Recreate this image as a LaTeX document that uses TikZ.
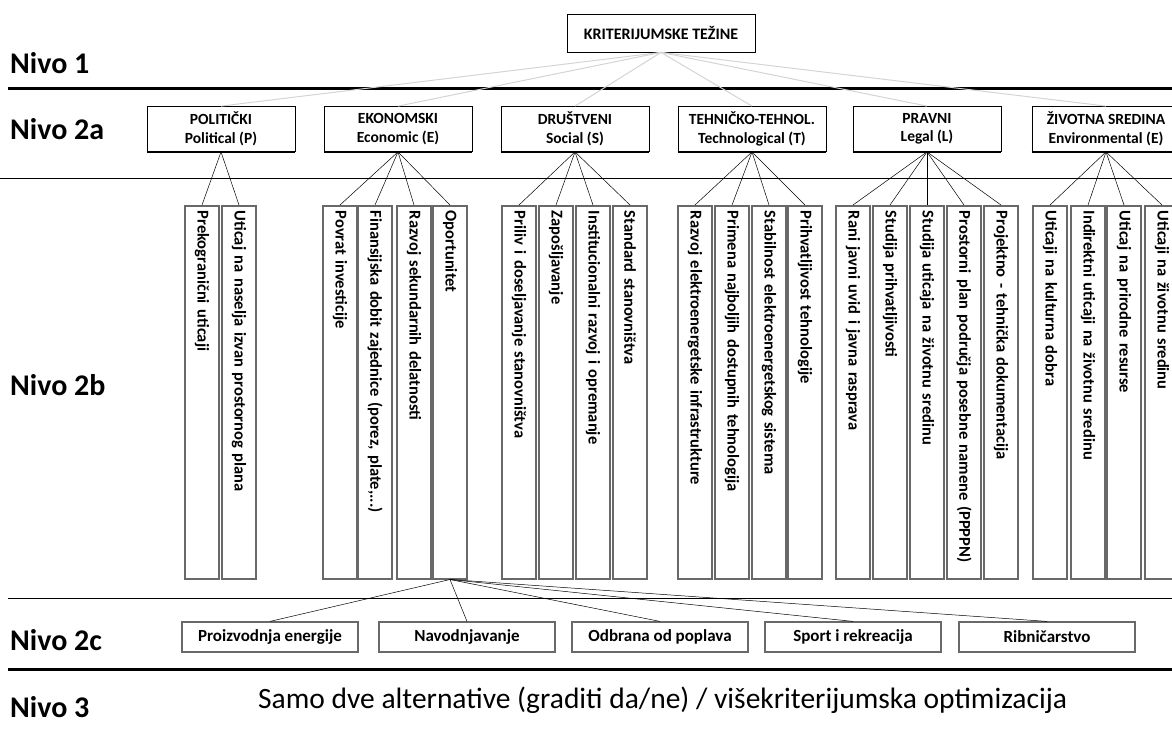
\documentclass[tikz,border=0pt]{standalone}
\usepackage{fontspec}
\setmainfont{Carlito}
\usetikzlibrary{positioning}
\definecolor{boxgray}{RGB}{105,105,105}
\definecolor{linkgray}{RGB}{212,212,212}

\begin{document}
\begin{tikzpicture}[x=1pt, y=-1pt,
  level/.style={font=\fontsize{30}{33}\selectfont\bfseries, anchor=west, inner sep=0pt},
  crit/.style={draw, thick, fill=white, minimum width=148pt, minimum height=45pt, align=center, inner sep=2pt, font=\fontsize{15.5}{18.5}\selectfont\bfseries},
  sub/.style={draw=boxgray, line width=1.5pt, fill=white, rotate=-90, anchor=west, minimum width=373pt, minimum height=34pt, text width=363pt, align=left, inner xsep=5pt, font=\fontsize{16.5}{18}\selectfont\bfseries},
  use/.style={draw=boxgray, line width=1.2pt, fill=white, minimum width=176pt, minimum height=30pt, font=\fontsize{17}{19}\selectfont\bfseries},
  link/.style={black, line width=0.5pt}]

  \useasboundingbox (0,0) rectangle (1172,731);
  \clip (0,0) rectangle (1172,731);

  % granice nivoa
  \draw[line width=3pt] (8,88) -- (1172,88);
  \draw[line width=0.8pt] (0,178) -- (1172,178);
  \draw[line width=0.8pt] (8,598) -- (1172,598);
  \draw[line width=3pt] (8,669) -- (1172,669);

  \node[level] (n1) at (10,63) {Nivo 1};
  \node[level] (n2a) at (10,129) {Nivo 2a};
  \node[level] (n2b) at (10,385) {Nivo 2b};
  \node[level] (n2c) at (10,640) {Nivo 2c};
  \node[level] (n3) at (10,707) {Nivo 3};

  % nivo 1
  \node[crit, minimum width=188pt, minimum height=38pt, font=\fontsize{16}{19}\selectfont\bfseries] (kt) at (661,33) {KRITERIJUMSKE TEŽINE};

  % nivo 2a
  \node[crit] (pol) at (221,129) {POLITIČKI\\Political (P)};
  \node[crit] (eko) at (398,129) {EKONOMSKI\\Economic (E)};
  \node[crit] (dru) at (575,129) {DRUŠTVENI\\Social (S)};
  \node[crit] (teh) at (752,129) {TEHNIČKO-TEHNOL.\\Technological (T)};
  \node[crit] (pra) at (927,129) {PRAVNI\\Legal (L)};
  \node[crit] (ziv) at (1106,129) {ŽIVOTNA SREDINA\\Environmental (E)};
  \foreach \n in {pol,eko,dru,teh,pra,ziv}
    \draw[line width=2.5pt] (\n.south west) -- (\n.south east);
  \foreach \n in {pol,eko,dru,teh,pra,ziv}
    \draw[linkgray, line width=1pt] (kt.south) -- (\n.north);

  % nivo 2b
  \node[sub] (p1) at (202,205) {Prekogranični uticaji};
  \node[sub] (p2) at (239,205) {Uticaj na naselja izvan prostornog plana};

  \node[sub] (e1) at (340,205) {Povrat investicije};
  \node[sub] (e2) at (375,205) {Finansijska dobit zajednice (porez, plate,...)};
  \node[sub] (e3) at (414,205) {Razvoj sekundarnih delatnosti};
  \node[sub] (op) at (450,205) {Oportunitet};

  \node[sub] (s1) at (519,205) {Priliv i doseljavanje stanovništva};
  \node[sub] (s2) at (556,205) {Zapošljavanje};
  \node[sub] (s3) at (593,205) {Institucionalni razvoj i opremanje};
  \node[sub] (s4) at (630,205) {Standard stanovništva};

  \node[sub] (t1) at (695,205) {Razvoj elektroenergetske infrastrukture};
  \node[sub] (t2) at (732,205) {Primena najboljih dostupnih tehnologija};
  \node[sub] (t3) at (769,205) {Stabilnost elektroenergetskog sistema};
  \node[sub] (t4) at (805,205) {Prihvatljivost tehnologije};

  \node[sub] (l1) at (853,205) {Rani javni uvid i javna rasprava};
  \node[sub] (l2) at (890,205) {Studija prihvatljivosti};
  \node[sub] (l3) at (927,205) {Studija uticaja na životnu sredinu};
  \node[sub] (l4) at (964,205) {Prostorni plan područja posebne namene (PPPPN)};
  \node[sub] (l5) at (1001,205) {Projektno - tehnička dokumentacija};

  \node[sub] (z1) at (1050,205) {Uticaji na kulturna dobra};
  \node[sub] (z2) at (1088,205) {Indirektni uticaji na životnu sredinu};
  \node[sub] (z3) at (1124,205) {Uticaj na prirodne resurse};
  \node[sub] (z4) at (1162,205) {Uticaji na životnu sredinu};

  \foreach \c in {p1,p2} \draw[link] (pol.south) -- (\c.west);
  \foreach \c in {e1,e2,e3,op} \draw[link] (eko.south) -- (\c.west);
  \foreach \c in {s1,s2,s3,s4} \draw[link] (dru.south) -- (\c.west);
  \foreach \c in {t1,t2,t3,t4} \draw[link] (teh.south) -- (\c.west);
  \foreach \c in {l1,l2,l3,l4,l5} \draw[link] (pra.south) -- (\c.west);
  \foreach \c in {z1,z2,z3,z4} \draw[link] (ziv.south) -- (\c.west);

  % nivo 2c
  \node[use] (u1) at (270,637) {Proizvodnja energije};
  \node[use] (u2) at (467,637) {Navodnjavanje};
  \node[use] (u3) at (660,637) {Odbrana od poplava};
  \node[use] (u4) at (853,637) {Sport i rekreacija};
  \node[use] (u5) at (1047,637) {Ribničarstvo};
  \foreach \u in {u1,u2,u3,u4,u5} \draw[link] (op.east) -- (\u.north);

  % nivo 3
  \node[font=\fontsize{29.5}{32}\selectfont, anchor=west, inner sep=0pt] (alt) at (258,700) {Samo dve alternative (graditi da/ne) / višekriterijumska optimizacija};
\end{tikzpicture}
\end{document}
